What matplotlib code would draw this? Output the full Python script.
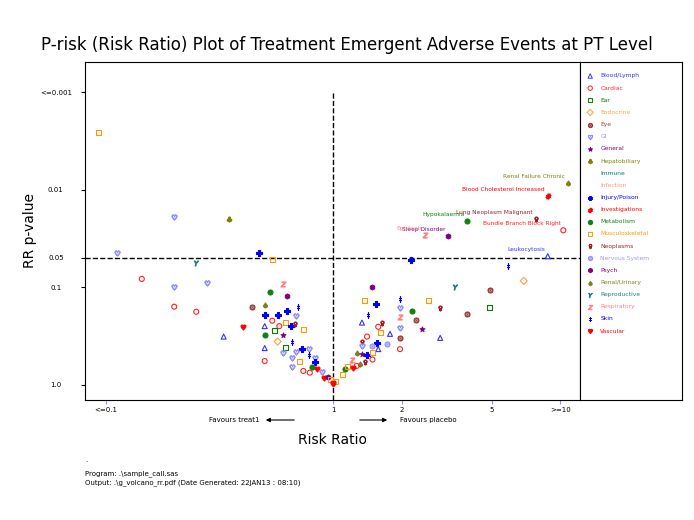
import matplotlib
matplotlib.use("Agg")
import matplotlib.pyplot as plt
import numpy as np

# body systems: name, marker, colour
systems = ["Blood/Lymph", "Cardiac", "Ear", "Endocrine", "Eye", "GI", "General",
           "Hepatobiliary", "Immune", "Infection", "Injury/Poison", "Investigations",
           "Metabolism", "Musculoskeletal", "Neoplasms", "Nervous System", "Psych",
           "Renal/Urinary", "Reproductive", "Respiratory", "Skin", "Vascular"]
markers = ["^", "o", "s", "D", "$\u2299$", "$\u2661$", "*", "$\u2663$", "+", "x", "P", "$\\#$",
           "o", "s", "$\u2640$", "$\u2299$", "h", "$\u2660$", "$Y$", "$Z$", "$\u2021$", "$\u2665$"]
colors = ["#3333ff", "#ff2222", "#008000", "#ffa040", "#a04040", "#9090ff", "#800080",
          "#808000", "#008080", "#ff9090", "#0000ff", "#ff0000", "#108010", "#ff9900",
          "#a02020", "#9999ff", "#800080", "#808020", "#208080", "#ff8080", "#0000ff", "#ff0000"]
filled = {"General", "Metabolism", "Psych", "Hepatobiliary", "Renal/Urinary", "Vascular", "Injury/Poison"}

# (system, risk ratio, p-value)
events = [
    ("Renal/Urinary", 10.8, 0.0085), ("Investigations", 8.8, 0.0115), ("Neoplasms", 7.8, 0.020),
    ("Metabolism", 3.9, 0.021), ("Cardiac", 10.3, 0.026), ("Psych", 3.2, 0.030),
    ("Respiratory", 2.54, 0.029), ("Blood/Lymph", 8.8, 0.048),
    ("Injury/Poison", 2.2, 0.052), ("Infection", 3.9, 0.06), ("Skin", 5.9, 0.061),
    ("Endocrine", 6.9, 0.086), ("Psych", 1.49, 0.099), ("Reproductive", 3.45, 0.099),
    ("Eye", 4.9, 0.106), ("Musculoskeletal", 1.37, 0.137), ("Musculoskeletal", 2.62, 0.137),
    ("Skin", 1.97, 0.131), ("Injury/Poison", 1.55, 0.148), ("GI", 1.97, 0.162),
    ("Metabolism", 2.23, 0.174), ("Neoplasms", 2.96, 0.162), ("Ear", 4.9, 0.162),
    ("Skin", 1.43, 0.19), ("Respiratory", 1.97, 0.2), ("Eye", 3.9, 0.187),
    ("Neoplasms", 1.64, 0.23), ("Infection", 1.82, 0.237), ("Eye", 2.32, 0.215),
    ("Cardiac", 1.58, 0.254), ("Blood/Lymph", 1.34, 0.23), ("GI", 1.97, 0.26),
    ("General", 2.47, 0.266), ("Infection", 1.43, 0.28), ("Musculoskeletal", 1.61, 0.29),
    ("Blood/Lymph", 1.78, 0.30), ("Cardiac", 1.41, 0.32), ("Eye", 1.97, 0.33),
    ("Blood/Lymph", 2.96, 0.33), ("Neoplasms", 1.34, 0.36), ("Injury/Poison", 1.56, 0.37),
    ("Nervous System", 1.73, 0.38), ("GI", 1.34, 0.40), ("Nervous System", 1.49, 0.40),
    ("Blood/Lymph", 1.58, 0.43), ("Cardiac", 1.97, 0.43), ("Renal/Urinary", 1.27, 0.47),
    ("General", 1.34, 0.48), ("Injury/Poison", 1.41, 0.49), ("Musculoskeletal", 1.49, 0.47),
    ("Immune", 1.64, 0.49), ("Respiratory", 1.21, 0.55), ("Neoplasms", 1.38, 0.58),
    ("Cardiac", 1.49, 0.55), ("Renal/Urinary", 1.31, 0.61), ("Metabolism", 1.13, 0.68),
    ("Musculoskeletal", 1.16, 0.65), ("Cardiac", 1.27, 0.64), ("Vascular", 1.22, 0.67),
    ("Musculoskeletal", 1.10, 0.79), ("Musculoskeletal", 1.02, 0.93), ("Vascular", 1.0, 0.98),
    ("Musculoskeletal", 0.093, 0.0026), ("Infection", 0.097, 0.0245), ("Infection", 0.144, 0.032),
    ("GI", 0.2, 0.019), ("Hepatobiliary", 0.35, 0.02), ("GI", 0.112, 0.044),
    ("Injury/Poison", 0.47, 0.044), ("Reproductive", 0.25, 0.056), ("Musculoskeletal", 0.54, 0.052),
    ("Cardiac", 0.144, 0.082), ("GI", 0.2, 0.099), ("GI", 0.28, 0.09),
    ("Cardiac", 0.2, 0.158), ("Cardiac", 0.25, 0.178), ("Infection", 0.33, 0.155),
    ("Eye", 0.44, 0.158), ("Respiratory", 0.60, 0.092), ("Metabolism", 0.53, 0.111),
    ("Psych", 0.63, 0.122), ("Renal/Urinary", 0.50, 0.151), ("Skin", 0.70, 0.158),
    ("Injury/Poison", 0.50, 0.19), ("Injury/Poison", 0.57, 0.19), ("Injury/Poison", 0.63, 0.175),
    ("Infection", 0.69, 0.183), ("GI", 0.69, 0.196), ("Vascular", 0.40, 0.254),
    ("Blood/Lymph", 0.33, 0.32), ("Blood/Lymph", 0.50, 0.25), ("Cardiac", 0.54, 0.22),
    ("Cardiac", 0.58, 0.25), ("Musculoskeletal", 0.62, 0.23), ("Injury/Poison", 0.65, 0.25),
    ("Neoplasms", 0.68, 0.24), ("Infection", 0.72, 0.25), ("Musculoskeletal", 0.74, 0.27),
    ("Ear", 0.55, 0.28), ("Metabolism", 0.50, 0.31), ("General", 0.60, 0.31),
    ("Endocrine", 0.57, 0.36), ("Infection", 0.63, 0.34), ("Skin", 0.66, 0.36),
    ("Ear", 0.62, 0.41), ("Blood/Lymph", 0.50, 0.42), ("Injury/Poison", 0.73, 0.43),
    ("GI", 0.78, 0.43), ("GI", 0.60, 0.47), ("GI", 0.69, 0.46), ("Skin", 0.78, 0.49),
    ("Infection", 0.73, 0.49), ("GI", 0.66, 0.53), ("Infection", 0.75, 0.53), ("GI", 0.83, 0.53),
    ("Cardiac", 0.50, 0.57), ("Musculoskeletal", 0.71, 0.57), ("Infection", 0.75, 0.59),
    ("Injury/Poison", 0.83, 0.59), ("GI", 0.66, 0.65), ("Metabolism", 0.81, 0.65),
    ("Vascular", 0.85, 0.68), ("Infection", 0.89, 0.68), ("Cardiac", 0.74, 0.72),
    ("Cardiac", 0.79, 0.75), ("Infection", 0.86, 0.79), ("GI", 0.89, 0.74),
    ("Vascular", 0.91, 0.85), ("Psych", 0.95, 0.83), ("Musculoskeletal", 0.97, 0.89),
    ("Vascular", 1.0, 0.95),
]

# labelled events: text, system, rr, p
labels = [
    ("Renal Failure Chronic", "Renal/Urinary", 10.8, 0.0085),
    ("Blood Cholesterol Increased", "Investigations", 8.8, 0.0115),
    ("Lung Neoplasm Malignant", "Neoplasms", 7.8, 0.020),
    ("Hypokalaemia", "Metabolism", 3.9, 0.021),
    ("Bundle Branch Block Right", "Cardiac", 10.3, 0.026),
    ("Sleep Disorder", "Psych", 3.2, 0.030),
    ("Epistaxis", "Respiratory", 2.54, 0.029),
    ("Leukocytosis", "Blood/Lymph", 8.8, 0.048),
]

x_ticks = [0.1, 1, 2, 5, 10]
x_ticklabels = ["<=0.1", "1", "2", "5", ">=10"]
y_ticks = [0.001, 0.01, 0.05, 0.1, 1.0]
y_ticklabels = ["<=0.001", "0.01", "0.05", "0.1", "1.0"]

fig = plt.figure(figsize=(6.94, 5.2), dpi=100)
ax = fig.add_axes([85 / 694, 120 / 520, 495 / 694, 338 / 520])
ax.set_xscale("log")
ax.set_yscale("log")
ax.set_xlim(0.081, 12.2)
ax.set_ylim(1.43, 10 ** -3.31)

for name, rr, p in events:
    i = systems.index(name)
    fc = colors[i] if name in filled or markers[i].startswith("$") else "none"
    ax.scatter(rr, p, marker=markers[i], s=13, facecolors=fc, edgecolors=colors[i],
               linewidths=0.8, zorder=3)

for text, name, rr, p in labels:
    c = colors[systems.index(name)]
    ax.annotate(text, (rr, p), xytext=(-2, 3), textcoords="offset points",
                ha="right", va="bottom", fontsize=4.2, color=c)

ax.axhline(0.05, color="black", ls="--", lw=1)
ax.plot([1, 1], [1.43, 0.001], color="black", ls="--", lw=1)

ax.set_xticks(x_ticks)
ax.set_xticklabels(x_ticklabels, fontsize=5)
ax.set_yticks(y_ticks)
ax.set_yticklabels(y_ticklabels, fontsize=5)
ax.minorticks_off()
ax.tick_params(axis="x", length=3, color="#9090ff", pad=2)
ax.tick_params(axis="y", length=3, pad=18)
for t in ax.get_yticklabels():
    t.set_horizontalalignment("center")
ax.set_ylabel("RR p-value", fontsize=10, labelpad=2)

fig.text(333 / 694, 1 - 440 / 520, "Risk Ratio", ha="center", va="center", fontsize=10)
fig.text(234 / 694, 1 - 420 / 520, "Favours treat1", ha="center", va="center", fontsize=5)
fig.text(428 / 694, 1 - 420 / 520, "Favours placebo", ha="center", va="center", fontsize=5)
fig.add_artist(matplotlib.patches.FancyArrowPatch((297 / 694, 1 - 420 / 520), (263 / 694, 1 - 420 / 520),
                                                  transform=fig.transFigure, arrowstyle="-|>",
                                                  mutation_scale=6, lw=0.8, color="black"))
fig.add_artist(matplotlib.patches.FancyArrowPatch((357 / 694, 1 - 420 / 520), (390 / 694, 1 - 420 / 520),
                                                  transform=fig.transFigure, arrowstyle="-|>",
                                                  mutation_scale=6, lw=0.8, color="black"))

fig.text(0.5, 1 - 45 / 520, "P-risk (Risk Ratio) Plot of Treatment Emergent Adverse Events at PT Level",
         ha="center", va="center", fontsize=12)

# legend panel
lax = fig.add_axes([580 / 694, 120 / 520, 102 / 694, 338 / 520])
lax.set_xlim(0, 1)
lax.set_ylim(0, 1)
lax.set_xticks([])
lax.set_yticks([])
for i, name in enumerate(systems):
    yy = (400 - (76 + 12.15 * i)) / 338
    fc = colors[i] if name in filled or markers[i].startswith("$") else "none"
    lax.scatter(0.1, yy, marker=markers[i], s=10, facecolors=fc, edgecolors=colors[i], linewidths=0.7)
    lax.text(0.2, yy, name, fontsize=4.3, color=colors[i], va="center")

fig.text(85 / 694, 1 - 462 / 520, ".", fontsize=5)
fig.text(85 / 694, 1 - 474 / 520, "Program: .\\sample_call.sas", fontsize=5, va="center")
fig.text(85 / 694, 1 - 483 / 520, "Output: .\\g_volcano_rr.pdf (Date Generated: 22JAN13 : 08:10)",
         fontsize=5, va="center")

fig.savefig("out.png", dpi=100)
